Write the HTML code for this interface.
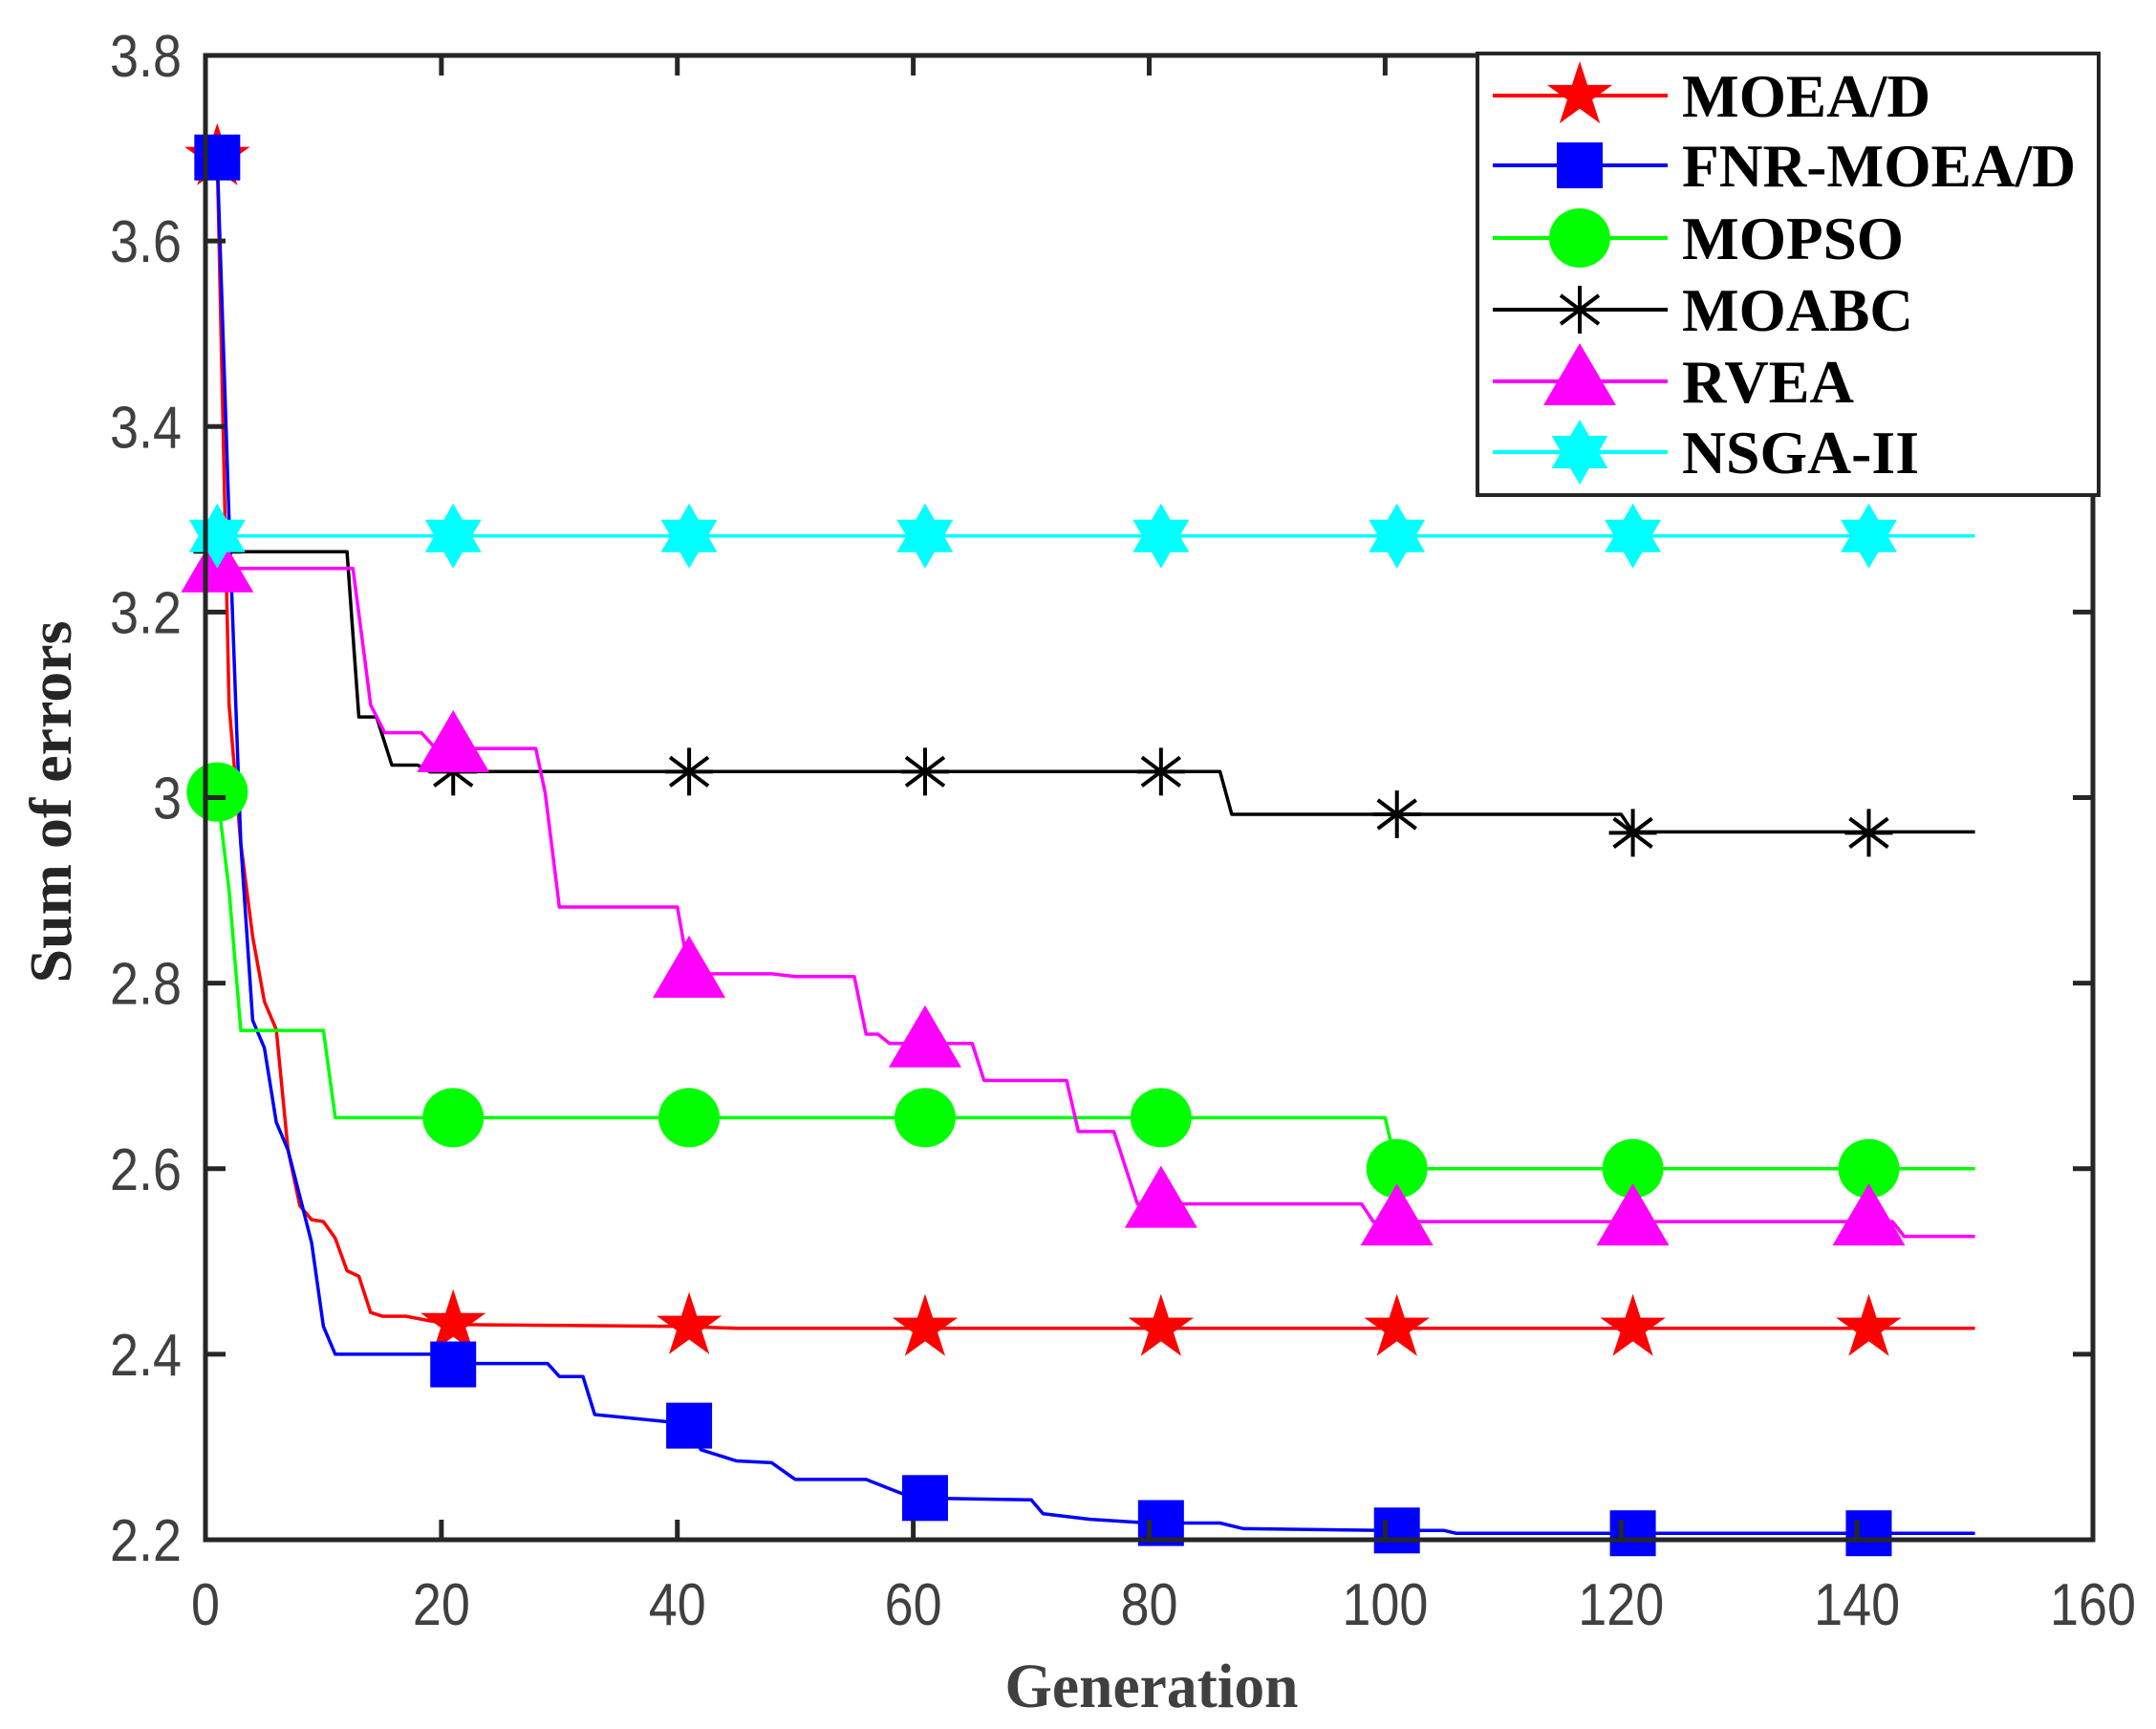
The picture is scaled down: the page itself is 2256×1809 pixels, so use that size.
<!DOCTYPE html>
<html><head><meta charset="utf-8"><style>
html,body{margin:0;padding:0;background:#fff;}
svg{display:block;}
</style></head><body>
<svg id="chart" width="2256" height="1809" viewBox="0 0 2256 1809" xmlns="http://www.w3.org/2000/svg">
<rect x="0" y="0" width="2256" height="1809" fill="#fff"/>
<g id="grid"></g>
<g id="series"></g>
<g id="frame"></g>
<g id="legend"></g>
</svg>
<script>
const xTicks=[0,20,40,60,80,100,120,140,160];
const yTicks=[2.2,2.4,2.6,2.8,3.0,3.2,3.4,3.6,3.8];
const yTickLabels=["2.2","2.4","2.6","2.8","3","3.2","3.4","3.6","3.8"];
const seriesNames=["MOEA/D","FNR-MOEA/D","MOPSO","MOABC","RVEA","NSGA-II"];
const markerGens=[1,21,41,61,81,101,121,141];
// MOEA/D
const moeadX=[1,2,3,4,5,6,7,8,9,10,11,12,13,14,15,17,19,20,21,40,45,150];
const moeadY=[3.69,3.10,2.95,2.85,2.78,2.75,2.62,2.56,2.545,2.543,2.525,2.49,2.484,2.445,2.441,2.441,2.436,2.434,2.432,2.43,2.428,2.428];
// FNR-MOEA/D
const fnrX=[1,2,3,4,5,6,7,8,9,10,11,20,21,29,30,32,33,41,42,45,48,50,56,58,60,70,71,75,80,86,88,100,105,106,150];
const fnrY=[3.69,3.30,2.95,2.76,2.73,2.65,2.62,2.57,2.52,2.43,2.40,2.40,2.39,2.39,2.376,2.376,2.335,2.325,2.297,2.285,2.283,2.265,2.265,2.255,2.245,2.243,2.228,2.222,2.218,2.218,2.212,2.21,2.21,2.207,2.207];
// MOPSO
const mopsoX=[1,2,3,10,11,100,101,150];
const mopsoY=[3.006,2.90,2.749,2.749,2.655,2.655,2.60,2.60];
// MOABC
const moabcX=[0,12,13,14.5,15.8,18,19,86,87,120,121,150];
const moabcY=[3.265,3.265,3.087,3.087,3.035,3.035,3.028,3.028,2.982,2.982,2.963,2.963];
// RVEA
const rveaX=[1,12.5,13.5,14,15.2,18.3,19.5,28,28.8,30,40,41,48,50,55,56,57,58,65,66,73,74,77,79,98,99,143,144,150];
const rveaY=[3.247,3.247,3.15,3.10,3.07,3.07,3.053,3.053,3.005,2.882,2.882,2.81,2.81,2.807,2.807,2.745,2.745,2.735,2.735,2.695,2.695,2.64,2.64,2.562,2.562,2.543,2.543,2.527,2.527];
// NSGA-II
const nsgaX=[1,150];
const nsgaY=[3.282,3.282];
// Marker values
const moeadM=[3.69,2.433,2.43,2.428,2.428,2.428,2.428,2.428];
const fnrM=[3.69,2.389,2.323,2.245,2.218,2.21,2.207,2.207];
const mopsoM=[3.006,2.655,2.655,2.655,2.655,2.60,2.60,2.60];
const moabcM=[3.265,3.028,3.028,3.028,3.028,2.982,2.962,2.962];
const rveaM=[3.247,3.053,2.81,2.735,2.562,2.543,2.543,2.543];
const nsgaM=[3.282,3.282,3.282,3.282,3.282,3.282,3.282,3.282];

const NS="http://www.w3.org/2000/svg";
const L=215,R=2190,T=58,B=1611;
const xMin=0,xMax=160,yMin=2.2,yMax=3.8;
function sx(v){return L+(v-xMin)/(xMax-xMin)*(R-L);}
function sy(v){return B-(v-yMin)/(yMax-yMin)*(B-T);}
function mk(tag,attrs,parent){const e=document.createElementNS(NS,tag);for(const k in attrs)e.setAttribute(k,attrs[k]);parent.appendChild(e);return e;}
function numLen(s){let n=0;for(const c of s)n+=(c==='.')?15:30;return n;}

const frame=document.getElementById('frame');
const series=document.getElementById('series');
const legend=document.getElementById('legend');

function drawMarker(type,cx,cy,color,parent,name){
  let e;
  if(type==='pentagram'){
    const r=36,ri=r*0.382;let p=[];
    for(let i=0;i<10;i++){const a=-Math.PI/2+i*Math.PI/5;const rr=i%2?ri:r;p.push((cx+rr*Math.cos(a)).toFixed(1)+','+(cy+rr*Math.sin(a)).toFixed(1));}
    e=mk('polygon',{points:p.join(' '),fill:color},parent);
  }else if(type==='square'){
    e=mk('rect',{x:cx-24,y:cy-24,width:48,height:48,fill:color},parent);
  }else if(type==='circle'){
    e=mk('ellipse',{cx:cx,cy:cy,rx:32,ry:31,fill:color},parent);
  }else if(type==='asterisk'){
    e=mk('g',{},parent);
    const s=25;
    mk('line',{x1:cx,y1:cy-s,x2:cx,y2:cy+s,stroke:color,'stroke-width':4},e);
    mk('line',{x1:cx-s,y1:cy,x2:cx+s,y2:cy,stroke:color,'stroke-width':4},e);
    mk('line',{x1:cx-s*0.8,y1:cy-s*0.6,x2:cx+s*0.8,y2:cy+s*0.6,stroke:color,'stroke-width':4},e);
    mk('line',{x1:cx-s*0.8,y1:cy+s*0.6,x2:cx+s*0.8,y2:cy-s*0.6,stroke:color,'stroke-width':4},e);
  }else if(type==='triangle'){
    e=mk('polygon',{points:`${cx},${cy-40} ${cx+38},${cy+25} ${cx-38},${cy+25}`,fill:color},parent);
  }else if(type==='hexagram'){
    const r=34,ri=r*0.577;let p=[];
    for(let i=0;i<12;i++){const a=-Math.PI/2+i*Math.PI/6;const rr=i%2?ri:r;p.push((cx+rr*Math.cos(a)).toFixed(1)+','+(cy+rr*Math.sin(a)).toFixed(1));}
    e=mk('polygon',{points:p.join(' '),fill:color},parent);
  }
  
  
  return e;
}

const defs=[
 {name:'moead',xs:moeadX,ys:moeadY,ms:moeadM,color:'#ff0000',marker:'pentagram'},
 {name:'fnr-moead',xs:fnrX,ys:fnrY,ms:fnrM,color:'#0000ff',marker:'square'},
 {name:'mopso',xs:mopsoX,ys:mopsoY,ms:mopsoM,color:'#00ff00',marker:'circle'},
 {name:'moabc',xs:moabcX,ys:moabcY,ms:moabcM,color:'#000000',marker:'asterisk'},
 {name:'rvea',xs:rveaX,ys:rveaY,ms:rveaM,color:'#ff00ff',marker:'triangle'},
 {name:'nsga-ii',xs:nsgaX,ys:nsgaY,ms:nsgaM,color:'#00ffff',marker:'hexagram'}
];
defs.forEach(d=>{
  const g=mk('g',{},series);
  
  
  const pts=d.xs.map((x,i)=>sx(x).toFixed(1)+','+sy(d.ys[i]).toFixed(1)).join(' ');
  const pl=mk('polyline',{points:pts,fill:'none',stroke:d.color,'stroke-width':3.5,'stroke-linejoin':'round'},g);
  
  
  markerGens.forEach((gx,i)=>{drawMarker(d.marker,sx(gx),sy(d.ms[i]),d.color,g,d.name+'-marker');});
});

const box=mk('rect',{x:L,y:T,width:R-L,height:B-T,fill:'none',stroke:'#262626','stroke-width':5},frame);


xTicks.forEach(v=>{
  const x=sx(v);
  mk('line',{x1:x,y1:B,x2:x,y2:B-21,stroke:'#262626','stroke-width':5},frame);
  mk('line',{x1:x,y1:T,x2:x,y2:T+21,stroke:'#262626','stroke-width':5},frame);
  const s=String(v);
  const t=mk('text',{x:x,y:1700,'text-anchor':'middle','font-family':'Liberation Sans, sans-serif','font-size':62,fill:'#404040',textLength:numLen(s),lengthAdjust:'spacingAndGlyphs'},frame);
  t.textContent=s;
  
  
});
yTicks.forEach((v,i)=>{
  const y=sy(v);
  mk('line',{x1:L,y1:y,x2:L+21,y2:y,stroke:'#262626','stroke-width':5},frame);
  mk('line',{x1:R,y1:y,x2:R-21,y2:y,stroke:'#262626','stroke-width':5},frame);
  const s=yTickLabels[i];
  const t=mk('text',{x:190,y:y+22,'text-anchor':'end','font-family':'Liberation Sans, sans-serif','font-size':62,fill:'#404040',textLength:numLen(s),lengthAdjust:'spacingAndGlyphs'},frame);
  t.textContent=s;
  
  
});
const xt=mk('text',{x:1205,y:1786,'text-anchor':'middle','font-family':'Liberation Serif, serif','font-weight':'bold','font-size':66,fill:'#404040',textLength:307,lengthAdjust:'spacingAndGlyphs'},frame);
xt.textContent='Generation';


const yt=mk('text',{x:0,y:0,transform:'translate(74,839) rotate(-90)','text-anchor':'middle','font-family':'Liberation Serif, serif','font-weight':'bold','font-size':62,fill:'#262626',textLength:379,lengthAdjust:'spacingAndGlyphs'},frame);
yt.textContent='Sum of errors';



const lg=mk('g',{},legend);


mk('rect',{x:1546,y:56,width:650,height:462,fill:'#fff',stroke:'#262626','stroke-width':4},lg);
const rowY=[100,173,249,324,399,473];
defs.forEach((d,i)=>{
  const y=rowY[i];
  const e=mk('g',{},lg);
  
  
  mk('line',{x1:1562,y1:y,x2:1745,y2:y,stroke:d.color,'stroke-width':4},e);
  drawMarker(d.marker,1653,y,d.color,e,'legend-marker');
  const lens=[260,412,232,242,180,248];
  const t=mk('text',{x:1760,y:y+22,'font-family':'Liberation Serif, serif','font-weight':'bold','font-size':64,fill:'#000',textLength:lens[i],lengthAdjust:'spacingAndGlyphs'},e);
  t.textContent=seriesNames[i];
  
  
});
</script>
</body></html>
